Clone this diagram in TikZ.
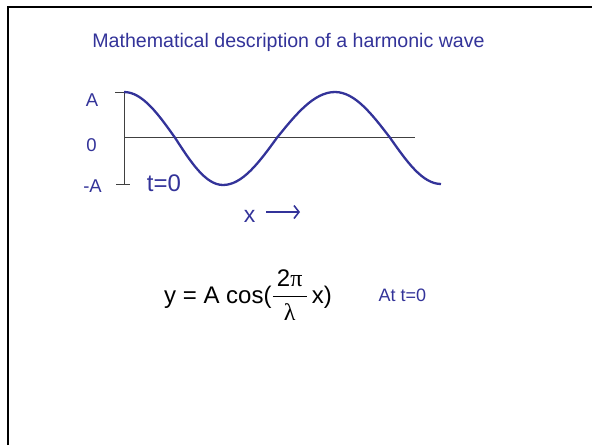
\documentclass[tikz,border=0pt]{standalone}
\usepackage{amsmath}
\usepackage{fontspec}
\usetikzlibrary{arrows.meta}
\setmainfont{Liberation Sans}
\newfontfamily\greekfont{Liberation Serif}
\definecolor{waveblue}{RGB}{51,51,153}
\tikzset{
    lbl/.style={text=waveblue, inner sep=0pt, anchor=base},
    axisline/.style={draw=black!75, line width=0.9pt},
}
\begin{document}
\begin{tikzpicture}[x=1pt, y=-1pt]
    \useasboundingbox (0,0) rectangle (592,445);
    % frame
    \draw[line width=2pt] (8,445) -- (8,6.5) -- (592,6.5);
    % title
    \node[lbl, font=\fontsize{19.6}{23}\selectfont] (title) at (288.5,47) {Mathematical description of a harmonic wave};
    % axes
    \coordinate (top) at (124,92);
    \coordinate (bot) at (124,184.3);
    \coordinate (origin) at (124,137.7);
    \coordinate (axisend) at (415,137.7);
    \coordinate (toptick) at (115,92);
    \coordinate (bottick) at (116,184.3);
    \coordinate (bottickend) at (130,184.3);
    \draw[axisline] (toptick) -- (top) -- (bot);
    \draw[axisline] (bottick) -- (bottickend);
    \draw[axisline] (origin) -- (axisend);
    \node[lbl, font=\fontsize{18.5}{22}\selectfont] (lblA) at (92,106) {A};
    \node[lbl, font=\fontsize{18.5}{22}\selectfont] (lblzero) at (91.5,151.7) {0};
    \node[lbl, font=\fontsize{18.5}{22}\selectfont] (lblminusA) at (92.5,192) {-A};
    % wave
    \draw[waveblue, line width=2.3pt] (top) cos (175,137.7) sin (223,185) cos (277,137.7)
        sin (335,92) cos (390,137.7) sin (441,184);
    \node[lbl, font=\fontsize{24}{28}\selectfont] (tzero) at (164,191.7) {t=0};
    \node[lbl, font=\fontsize{23}{27}\selectfont] (xlabel) at (249.5,222) {x};
    \coordinate (xtip) at (300,212);
    \draw[waveblue, line width=1.6pt, -{Straight Barb[length=5pt, width=13pt]}] (266,212) -- (xtip);
    % formula
    \node[inner sep=0pt, anchor=base west, font=\fontsize{24}{28}\selectfont] (formula) at (164,303)
        {$\text{y = A cos(}\dfrac{\,\text{2{\greekfont π}}\,}{\text{\greekfont λ}}\,\text{x)}$};
    \node[lbl, font=\fontsize{18}{21}\selectfont] (att0) at (402.5,301) {At t=0};
\end{tikzpicture}
\end{document}
